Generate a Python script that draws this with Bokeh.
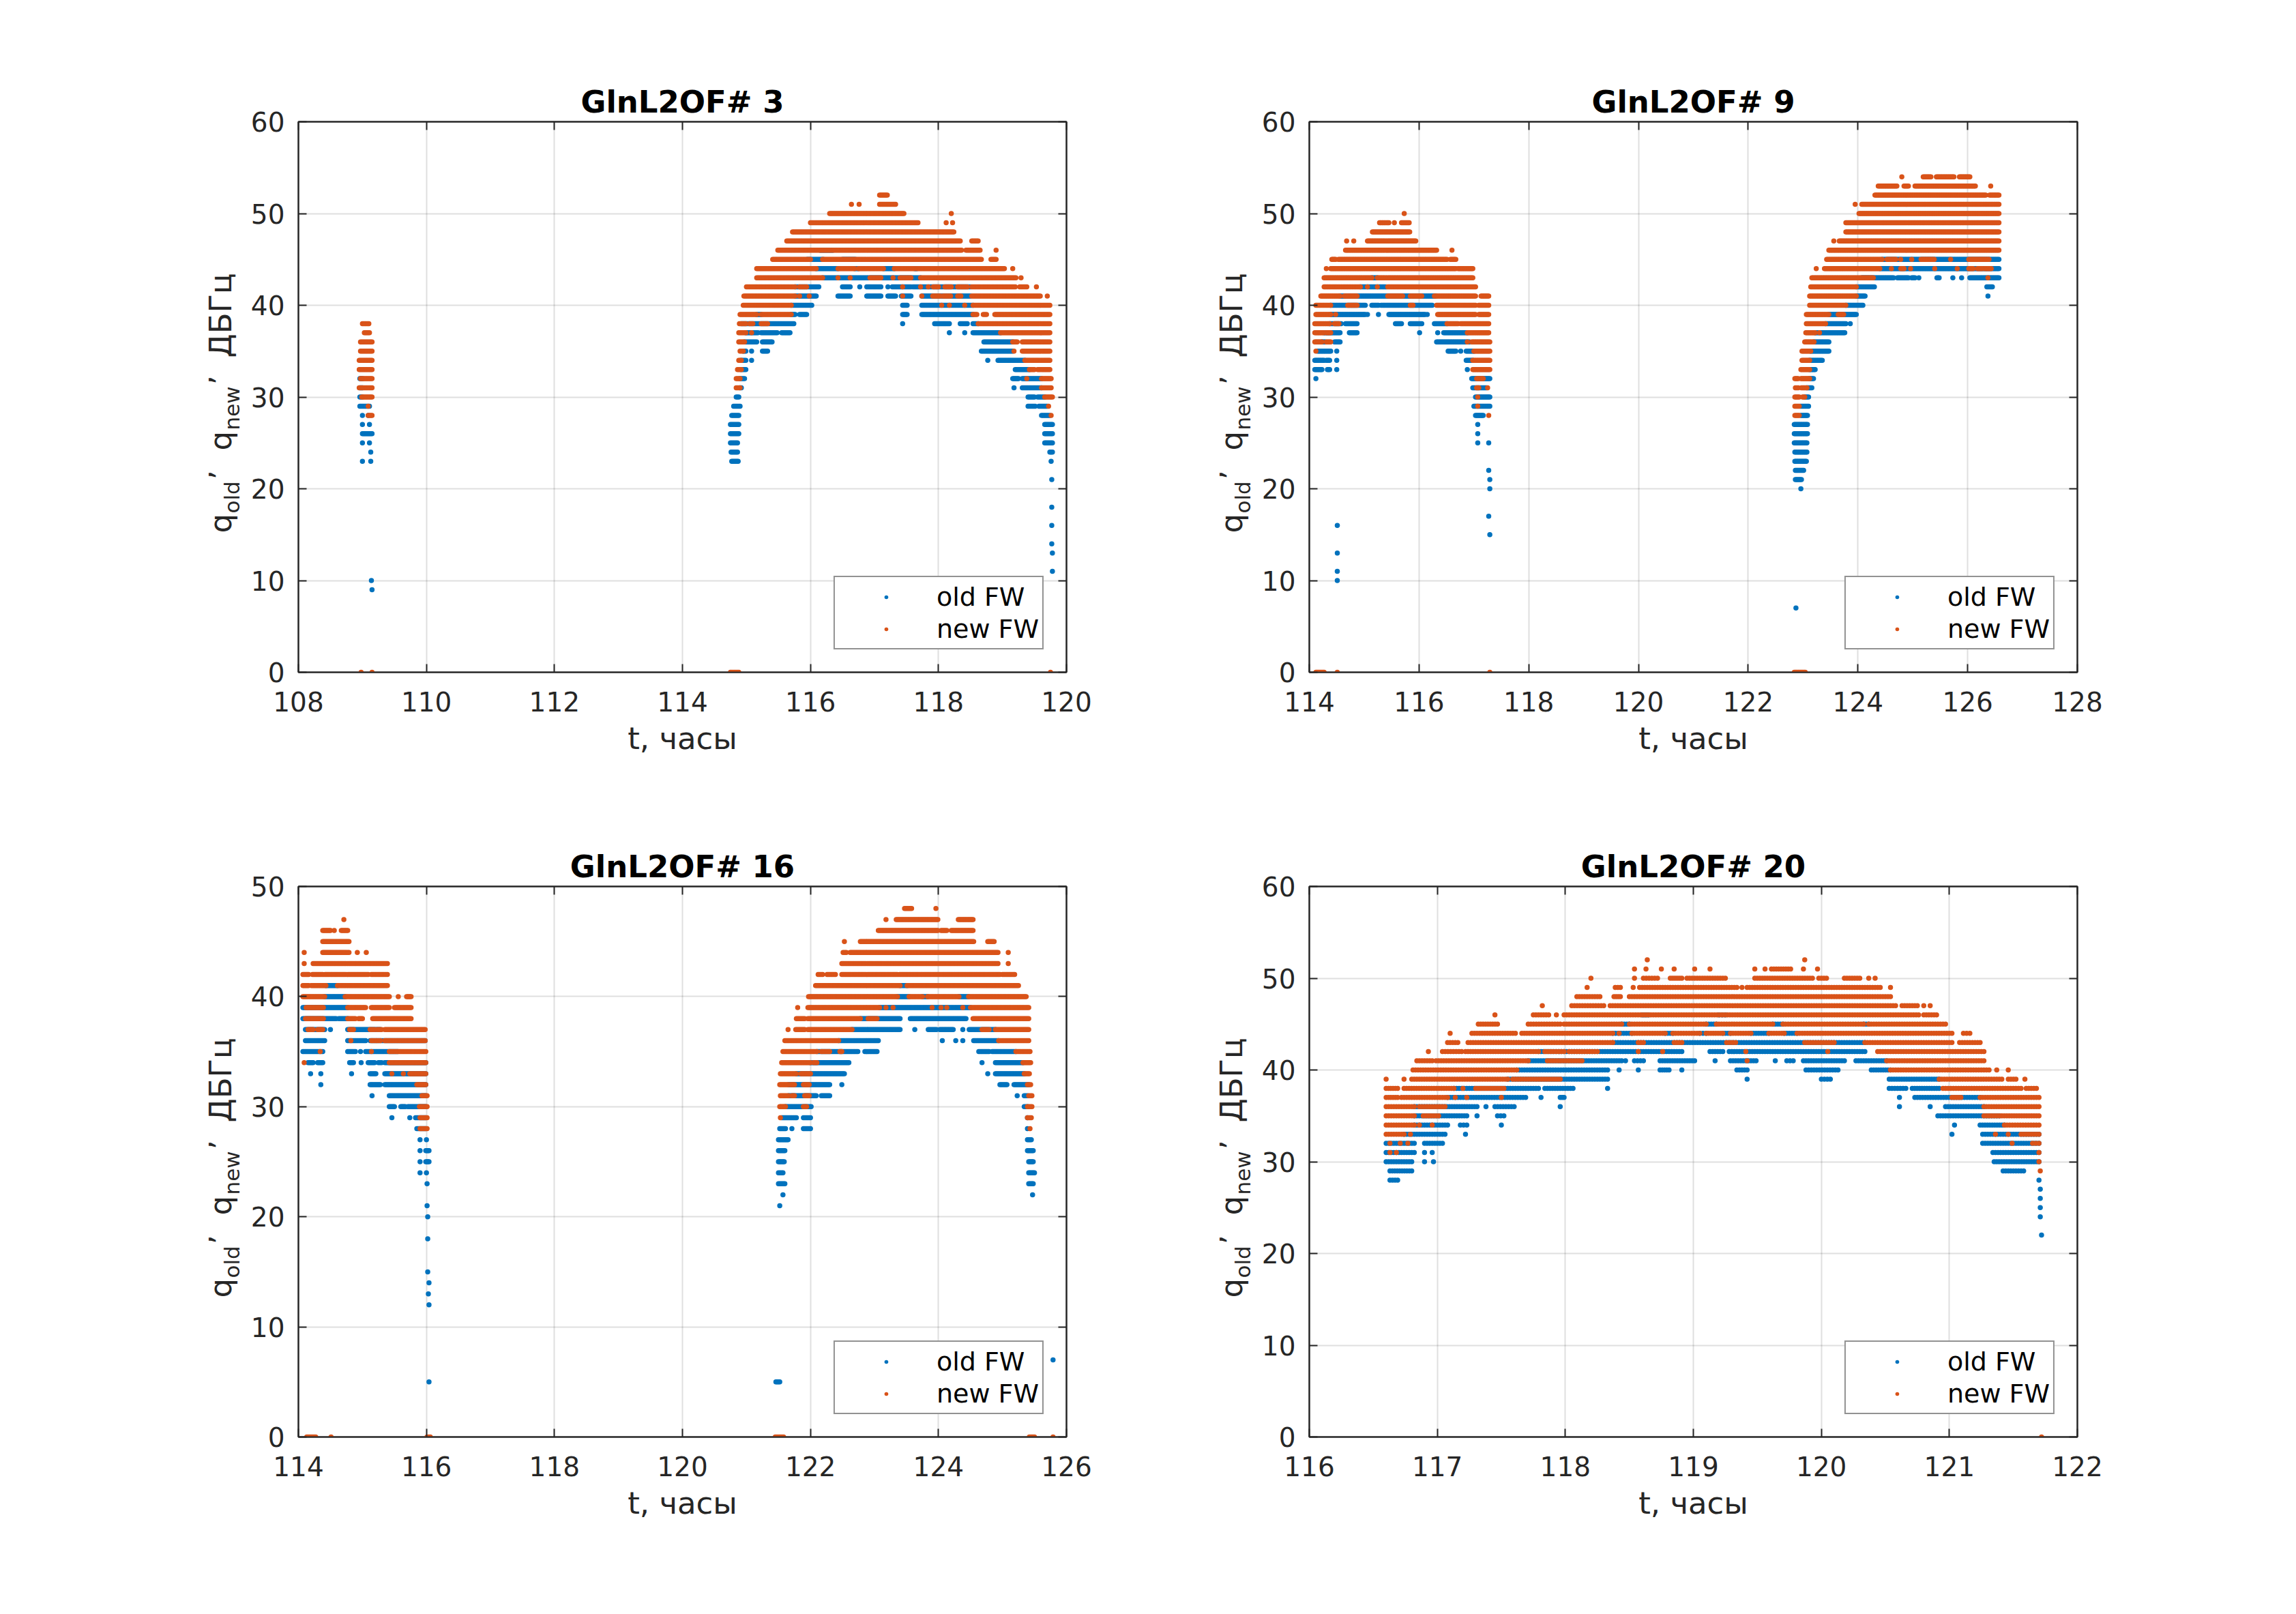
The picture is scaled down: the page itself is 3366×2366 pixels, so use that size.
import math
import numpy as np
from bokeh.plotting import figure
from bokeh.models import (Range1d, FixedTicker, LinearAxis, Legend,
                          LegendItem, ColumnDataSource)
from bokeh.layouts import column, row
from bokeh.core.properties import value
from bokeh.embed import file_html
from bokeh.resources import INLINE

# ---------------- text ----------------
TITLES = ["GlnL2OF# 3", "GlnL2OF# 9", "GlnL2OF# 16", "GlnL2OF# 20"]
SERIES = ["old FW", "new FW"]
X_LABEL = "t, часы"
# y label  q_old, q_new, ДБГц  split into normal / subscript pieces
Y_LABEL_PARTS = ["q", "old", "’", "q", "new", "’", "ДБГц"]
Y_LABEL_SUB = [False, True, False, False, True, False, False]

# ---------------- axes ----------------
p1_xlim = (108, 120); p1_xticks = [108, 110, 112, 114, 116, 118, 120]
p2_xlim = (114, 128); p2_xticks = [114, 116, 118, 120, 122, 124, 126, 128]
p3_xlim = (114, 126); p3_xticks = [114, 116, 118, 120, 122, 124, 126]
p4_xlim = (116, 122); p4_xticks = [116, 117, 118, 119, 120, 121, 122]
p1_ylim = (0, 60); p2_ylim = (0, 60); p3_ylim = (0, 50); p4_ylim = (0, 60)
y60_ticks = [0, 10, 20, 30, 40, 50, 60]
y50_ticks = [0, 10, 20, 30, 40, 50]

# ---------------- data ----------------
# runs of constant q (dB-Hz): (q, t_start, t_end) or (q, t) for single samples
p1_old = [
 (32,108.96,109.00),(31,108.96,109.00),(30,108.96,109.00),(29,108.96,109.11),
 (28,109.00),(28,109.09),(27,109.00),(27,109.11),(26,109.00,109.15),(25,109.00),(25,109.11),
 (24,109.13),(23,109.00),(23,109.13),(10,109.14),(9,109.15),
 (46,116.15,116.35),
 (45,115.95,116.20),(45,116.50,116.70),
 (44,116.09,116.43),(44,116.69,116.75),(44,117.14,117.31),(44,117.63,117.66),
 (43,116.19,117.72),
 (42,115.76,116.13),(42,116.50,116.62),(42,116.77),(42,116.88,117.10),(42,117.21),(42,117.28,117.57),(42,117.60,118.50),
 (41,115.76,116.09),(41,116.43,116.62),(41,116.88,117.10),(41,117.21,117.33),(41,117.42,117.57),(41,117.74,118.50),
 (40,115.70,116.02),(40,117.44,117.51),(40,117.74,118.54),
 (39,115.16,115.23),(39,115.70,115.76),(39,115.83,115.94),(39,117.44,117.51),(39,117.74,118.54),
 (38,114.92,115.74),(38,117.44),(38,117.94,118.17),(38,118.34,118.45),(38,118.54,118.62),
 (37,114.99,115.18),(37,115.23,115.48),(37,115.55,115.68),(37,118.17),(37,118.41),(37,118.54,118.97),
 (36,114.97,115.16),(36,115.25,115.40),(36,118.71,119.16),
 (35,114.95,114.99),(35,115.08),(35,115.25,115.33),(35,118.67,119.16),
 (34,114.92,114.99),(34,115.08),(34,118.77),(34,118.93,119.35),
 (33,114.92,114.99),(33,119.20,119.42),
 (32,114.90,114.97),(32,119.16,119.25),(32,119.31,119.61),
 (31,114.90,114.92),(31,119.18),(31,119.31,119.61),
 (30,114.84,114.88),(30,119.40,119.50),(30,119.55,119.66),
 (29,114.80,114.90),(29,119.40,119.51),(29,119.57,119.70),
 (28,114.77,114.88),(28,119.61,119.74),
 (27,114.75,114.88),(27,119.66,119.78),
 (26,114.75,114.88),(26,119.66,119.78),
 (25,114.75,114.86),(25,119.66,119.78),
 (24,114.76,114.86),(24,119.74,119.78),
 (23,114.77,114.87),(23,119.76),
 (21,119.77),(18,119.77),(16,119.77),(14,119.77),(13,119.78),(11,119.78),
]
p1_new = [
 (38,109.00,109.10),(37,109.03,109.11),(36,108.97,109.15),(35,108.97,109.15),
 (34,108.95,109.15),(33,108.95,109.15),(32,108.97,109.15),(31,108.95,109.15),
 (30,108.99,109.15),(29,109.09),(28,109.09,109.15),(0,108.98),(0,109.15),
 (52,117.08,117.20),
 (51,116.64),(51,116.76),(51,117.08,117.33),
 (50,116.30,117.46),(50,118.20),
 (49,116.00,117.68),(49,118.12),(49,118.22),
 (48,115.72,118.24),
 (47,115.63,118.34),(47,118.52,118.62),
 (46,115.49,118.36),(46,118.43,118.65),(46,118.90),
 (45,115.41,116.00),(45,116.19,118.67),(45,118.82,118.90),
 (44,115.16,116.09),(44,116.43,116.69),(44,116.75,117.14),(44,117.31,117.63),(44,117.66,119.03),(44,119.16),
 (43,115.16,116.19),(43,116.43),(43,116.62),(43,116.93,117.10),(43,117.29),(43,117.40,117.57),(43,117.72,119.21),(43,119.29),
 (42,115.00,115.76),(42,115.83,115.94),(42,117.44),(42,117.72),(42,117.84),(42,117.92,118.00),(42,118.10,118.20),(42,118.30,118.45),(42,118.52,119.20),(42,119.27,119.38),(42,119.53),
 (41,114.96,115.76),(41,115.83),(41,115.98),(41,117.44),(41,117.74),(41,117.91,118.03),(41,118.07,118.19),(41,118.30,118.35),(41,118.52,119.59),(41,119.70),
 (40,114.95,115.70),(40,118.05),(40,118.17),(40,118.41),(40,118.54,119.74),
 (39,114.90,115.16),(39,115.23,115.70),(39,118.54,118.60),(39,118.70,118.75),(39,118.88,119.74),
 (38,114.89,114.99),(38,115.05,115.10),(38,115.23,115.33),(38,118.62,119.74),
 (37,114.88,114.99),(37,115.08),(37,118.97,119.74),
 (36,114.88,114.97),(36,119.16,119.23),(36,119.31,119.74),
 (35,114.90,114.95),(35,119.18),(35,119.31,119.74),
 (34,114.88,114.92),(34,119.35,119.74),
 (33,114.86,114.92),(33,119.42,119.50),(33,119.55,119.74),
 (32,114.84,114.90),(32,119.38),(32,119.61,119.76),
 (31,114.84,114.90),(31,119.61,119.76),
 (30,119.66,119.78),(29,119.72),(28,119.76),
 (0,114.75,114.88),(0,119.75),
]

p2_old = [
 (43,115.14,115.24),
 (42,114.93,115.40),
 (41,114.56,116.30),
 (40,114.39,115.02),(40,115.14,115.26),(40,115.31,116.24),
 (39,114.39,115.02),(39,115.06),(39,115.26),(39,115.45,116.11),(39,116.15),
 (38,114.37,114.58),(38,114.66,114.87),(38,115.57,115.68),(38,115.84,116.05),(38,116.28,116.51),
 (37,114.27,114.56),(37,114.73,114.87),(37,116.01),(37,116.34),(37,116.45,116.88),
 (36,114.23,114.29),(36,114.46,114.56),(36,116.32,116.92),
 (35,114.15,114.39),(35,114.50),(35,116.53,116.67),(35,116.76),(35,116.86,117.00),
 (34,114.10,114.27),(34,114.31,114.37),(34,114.50),(34,116.86,116.98),
 (33,114.10,114.23),(33,114.33,114.37),(33,114.50),(33,116.88),
 (32,114.12),(32,116.96,117.29),
 (31,116.98,117.23),(30,117.03,117.29),(29,117.00,117.29),(28,117.03,117.17),
 (27,117.07),(26,117.07),(25,117.07),(25,117.27),(22,117.27),(21,117.29),(20,117.29),(17,117.27),(15,117.29),
 (16,114.51),(13,114.51),(11,114.51),(10,114.51),
 (45,124.44,126.57),
 (44,124.40,126.57),
 (43,124.07,124.65),(43,124.72,124.92),(43,124.98,125.04),(43,125.11),(43,125.44,125.48),(43,125.73),(43,125.89),(43,126.04,126.57),
 (42,123.97,124.30),(42,126.35,126.45),
 (41,123.97,124.13),(41,126.37),
 (40,123.78,124.09),
 (39,123.47,123.97),
 (38,123.41,123.78),(38,123.86),
 (37,123.22,123.76),
 (36,123.20,123.47),
 (35,123.14,123.47),
 (34,123.12,123.35),
 (33,123.12,123.22),
 (32,123.12,123.19),
 (31,123.07,123.16),
 (30,123.03,123.10),
 (29,122.95,123.10),
 (28,122.96,123.08),
 (27,122.84,123.08),(26,122.84,123.08),(25,122.84,123.07),(24,122.85,123.07),(23,122.85,123.06),
 (22,122.86,123.01),(21,122.86,122.97),(20,122.96),(7,122.87),
]
p2_new = [
 (50,115.73),
 (49,115.28,115.45),(49,115.55),(49,115.68,115.82),
 (48,115.15,115.83),
 (47,114.68),(47,114.81),(47,115.06,115.94),
 (46,114.66,116.32),(46,116.60),
 (45,114.41,114.48),(45,114.53,116.51),(45,116.57,116.67),
 (44,114.31),(44,114.39,116.67),(44,116.71,116.98),
 (43,114.27,115.14),(43,115.24,116.98),
 (42,114.27,114.93),(42,115.06),(42,115.24),(42,115.43,117.03),
 (41,114.21,114.56),(41,114.64,114.87),(41,115.43,115.70),(41,115.84,116.05),(41,116.28,117.03),(41,117.13,117.27),
 (40,114.12,114.39),(40,114.70,114.87),(40,115.84,115.89),(40,116.32,117.03),(40,117.09,117.27),
 (39,114.12,114.39),(39,114.48),(39,116.34,117.03),(39,117.09,117.27),
 (38,114.10,114.37),(38,114.46,114.54),(38,116.51,116.71),(38,116.76,117.27),
 (37,114.10,114.27),(37,114.31,114.39),(37,116.88,117.27),
 (36,114.10,114.23),(36,114.31,114.39),(36,116.88),(36,116.96,117.29),
 (35,114.12),(35,117.00,117.29),
 (34,116.98,117.29),(33,116.98,117.29),
 (32,117.05,117.17),(31,117.05,117.09),(31,117.25),(30,117.07),(29,117.07),(28,117.27),
 (0,114.12,114.27),(0,114.51),(0,117.29),
 (54,124.80),(54,125.19,125.33),(54,125.43,125.75),(54,125.85,126.04),
 (53,124.37,124.71),(53,124.84,124.92),(53,125.04,126.14),(53,126.42),
 (52,124.31,126.33),(52,126.40,126.57),
 (51,123.95),(51,124.07,126.57),
 (50,124.02,126.57),
 (49,123.78,126.57),(48,123.78,126.57),
 (47,123.56),(47,123.66,126.57),
 (46,123.47,126.57),
 (45,123.43,124.44),(45,124.53,124.69),(45,124.78),(45,124.98),(45,125.15,125.39),(45,125.69),(45,126.02,126.39),
 (44,123.24),(44,123.39,124.40),(44,124.61),(44,124.78,124.84),(44,124.96),(44,125.40),(44,125.81),(44,126.02,126.10),(44,126.18,126.27),(44,126.31,126.43),
 (43,123.16,124.28),(43,126.37),
 (42,123.14,123.97),(41,123.12,123.97),(40,123.12,123.78),
 (39,123.06,123.47),(39,123.64,123.74),
 (38,123.06,123.41),(37,123.05,123.22),(37,123.30),(36,123.03,123.20),
 (35,122.98,123.14),(34,122.98,123.12),(33,122.96,123.12),
 (32,122.85,122.91),(32,122.96,123.12),(31,122.86,122.91),(31,122.97,123.07),
 (30,122.85,122.93),(30,122.99,123.03),(29,122.85,122.93),(28,122.85,122.93),
 (0,122.84,123.04),
]

p3_old = [
 (41,114.43,114.61),
 (40,114.41,114.73),
 (39,114.07,114.77),
 (38,114.07,114.59),(38,114.63,114.77),
 (37,114.11,114.41),(37,114.50),(37,114.77,115.28),
 (36,114.11,114.41),(36,114.77,115.05),(36,115.12,115.98),
 (35,114.07,114.38),(35,114.77,114.89),(35,114.97),(35,115.05,115.55),
 (34,114.15,114.23),(34,114.30,114.38),(34,114.80,114.86),(34,114.98),(34,115.09,115.19),(34,115.25,115.30),(34,115.35,115.99),
 (33,114.19),(33,114.35),(33,114.83),(33,115.12,115.21),(33,115.35,115.99),
 (32,114.35),(32,115.12,115.28),(32,115.35,115.99),
 (31,115.15),(31,115.42,115.99),
 (30,115.42,115.50),(30,115.60,115.67),(30,115.71,115.99),
 (29,115.46),(29,115.74),(29,115.83,115.99),
 (28,115.85,115.99),
 (27,115.90),(27,116.00),(26,115.90),(26,115.99,116.04),(25,115.90),(25,115.99,116.04),(24,115.90),(24,116.00),
 (23,116.01),(21,116.01),(20,116.02),(18,116.02),(15,116.02),(14,116.04),(13,116.03),(12,116.04),(5,116.04),
 (41,123.40,123.51),
 (40,123.36,123.54),(40,123.75,123.83),(40,124.32,124.47),
 (39,123.08,124.50),
 (38,122.78,123.40),(38,123.56,124.43),
 (37,122.65,123.40),(37,123.63),(37,123.84,123.97),(37,124.02,124.23),(37,124.38),(37,124.48,124.89),
 (36,122.44,123.06),(36,124.06),(36,124.27),(36,124.38),(36,124.55,124.94),
 (35,122.10,122.74),(35,122.85,123.04),(35,124.63,124.79),(35,124.84,125.21),
 (34,122.00,122.60),(34,124.68),(34,124.89,125.32),
 (33,121.78,122.53),(33,124.77),(33,124.89,125.34),
 (32,121.66,122.30),(32,122.49),(32,124.96,125.07),(32,125.18,125.41),
 (31,121.66,122.09),(31,122.17,122.30),(31,125.23),(31,125.34,125.39),
 (30,121.61,122.01),(30,125.34,125.39),
 (29,121.55,121.78),(29,121.89,122.00),(29,125.39),
 (28,121.52,121.61),(28,121.71),(28,121.89,122.00),(28,125.39),
 (27,121.50,121.65),(27,125.39,125.45),
 (26,121.50,121.60),(26,125.39,125.48),
 (25,121.50,121.59),(25,125.41,125.48),
 (24,121.50,121.57),(24,125.41,125.50),
 (23,121.50,121.60),(23,125.41,125.48),
 (22,121.57),(22,125.47),(21,121.52),
 (5,121.46,121.52),(7,125.79),
]
p3_new = [
 (47,114.71),
 (46,114.38,114.50),(46,114.56),(46,114.67,114.77),
 (45,114.38,114.79),
 (44,114.09),(44,114.38,114.79),(44,114.92),(44,115.06),
 (43,114.09),(43,114.23,115.39),
 (42,114.07,114.16),(42,114.22,115.09),(42,115.14,115.39),
 (41,114.07,114.16),(41,114.20,114.43),(41,114.61,115.39),
 (40,114.07,114.41),(40,114.73,115.42),(40,115.56),(40,115.69,115.76),
 (39,114.12,114.39),(39,114.77,114.89),(39,114.91,115.05),(39,115.14,115.42),(39,115.50,115.76),
 (38,114.11,114.39),(38,114.77,114.89),(38,114.94,115.00),(38,115.16,115.76),
 (37,114.15,114.23),(37,114.30,114.38),(37,114.80,114.86),(37,115.12,115.19),(37,115.23,115.30),(37,115.35,115.98),
 (36,114.82),(36,115.14,115.21),(36,115.23,115.28),(36,115.35,115.98),
 (35,114.34),(35,115.14),(35,115.42,115.99),
 (34,114.09),(34,115.42,115.99),
 (33,115.46),(33,115.64),(33,115.74,115.99),
 (32,115.85,115.99),(31,115.93,116.01),(30,115.89,116.01),(29,115.90,116.01),(28,115.90,116.01),
 (0,114.13,114.27),(0,114.51),(0,116.01,116.06),
 (48,123.47,123.58),(48,123.96),
 (47,123.18),(47,123.34,123.99),(47,124.31,124.54),
 (46,123.06,123.99),(46,124.04,124.13),(46,124.20,124.54),
 (45,122.53),(45,122.78,124.55),(45,124.77,124.87),
 (44,122.51,122.56),(44,122.62,124.93),(44,125.09),
 (43,122.49,124.93),(43,125.09),
 (42,122.12,122.19),(42,122.26,122.39),(42,122.49,124.96),(42,125.00,125.19),
 (41,122.08,123.40),(41,123.51,125.25),
 (40,121.97,123.36),(40,123.54,123.75),(40,123.83,124.32),(40,124.47,125.37),
 (39,121.80),(39,121.96,123.08),(39,123.18),(39,123.29),(39,123.90),(39,124.04),(39,124.13),(39,124.38),(39,124.50,125.41),
 (38,121.78,121.91),(38,121.96,122.78),(38,122.90,123.04),(38,124.54,125.41),
 (37,121.65),(37,121.77,121.91),(37,121.96,122.65),(37,124.68,124.79),(37,124.89,125.41),
 (36,121.60,122.44),(36,124.94,125.41),
 (35,121.57,122.10),(35,122.17,122.30),(35,122.46,122.49),(35,125.21,125.43),
 (34,121.55,122.00),(34,122.05,122.10),(34,125.32,125.44),
 (33,121.53,121.78),(33,121.85,122.00),(33,125.34,125.42),
 (32,121.52,121.66),(32,121.69,121.75),(32,121.89,121.98),(32,125.39,125.44),
 (31,121.53,121.66),(31,121.71,121.75),(31,121.91,121.98),(31,125.41,125.46),
 (30,121.52,121.61),(30,121.89,121.94),(30,125.39,125.46),
 (29,121.53),(29,125.39,125.45),
 (28,125.43),
 (0,121.45,121.58),(0,125.42,125.50),(0,125.79),
]

p4_old = [
 (46,118.60,118.65),(46,119.20,119.25),
 (45,118.44,118.50),(45,119.10,119.18),(45,119.62,119.70),(45,120.33,120.37),
 (44,118.37,118.52),(44,118.78,118.84),(44,119.05,119.10),(44,119.23,119.29),(44,119.45,119.59),(44,119.71,119.81),
 (43,118.37,120.34),
 (42,117.79,118.91),(42,119.13,119.23),(42,119.28,120.34),
 (41,117.71,118.44),(41,118.47),(41,118.54,118.61),(41,118.74,119.01),(41,119.17),(41,119.29,119.49),(41,119.64),(41,119.73,119.78),(41,119.86,120.18),(41,120.27,120.51),
 (40,117.62,118.33),(40,118.42),(40,118.57),(40,118.74,118.81),(40,118.91),(40,119.34,119.42),(40,119.88,120.13),(40,120.39,120.54),
 (39,117.55,118.33),(39,119.42),(39,120.00,120.07),(39,120.53,120.92),
 (38,117.13,117.79),(38,117.84,118.06),(38,118.33),(38,120.53,120.66),(38,120.71,120.92),
 (37,117.08,117.69),(37,117.81),(37,117.96,117.99),(37,120.61),(37,120.73,121.24),
 (36,116.82,117.31),(36,117.38),(36,117.45,117.60),(36,117.96),(36,120.61),(36,120.85),(36,120.97,121.27),
 (35,116.82,117.23),(35,117.31),(35,117.47,117.52),(35,120.91,121.39),
 (34,116.82,117.08),(34,117.18,117.23),(34,117.50),(34,121.04),(34,121.24,121.43),
 (33,116.74,117.06),(33,117.22),(33,121.02),(33,121.26,121.70),
 (32,116.60,116.82),(32,116.90,117.04),(32,121.26,121.70),
 (31,116.60,116.82),(31,116.90),(31,116.96),(31,121.34,121.70),
 (30,116.60,116.80),(30,116.90),(30,116.97),(30,121.35,121.70),
 (29,116.63,116.80),(29,121.42,121.58),
 (28,116.63,116.69),(28,121.70),
 (27,121.71),(26,121.71),(25,121.71),(24,121.71),(22,121.72),
]
p4_new = [
 (52,118.64),(52,119.87),
 (51,118.54),(51,118.63),(51,118.75),(51,118.85),(51,119.01),(51,119.13),(51,119.48),(51,119.56),(51,119.61,119.76),(51,119.86),(51,119.97),
 (50,118.20),(50,118.54),(50,118.61,118.72),(50,118.82,118.91),(50,118.95,119.25),(50,119.48,119.93),(50,119.98,120.04),(50,120.18,120.30),(50,120.37),(50,120.42),
 (49,118.17),(49,118.39,118.43),(49,118.53),(49,118.58,119.34),(49,119.38),(49,119.42,120.46),(49,120.54),
 (48,118.09,118.27),(48,118.38,118.43),(48,118.50,120.54),
 (47,117.82),(47,118.05,118.30),(47,118.35,120.58),(47,120.63,120.75),(47,120.80),(47,120.85),
 (46,117.45),(46,117.75,117.87),(46,117.93),(46,117.99,120.76),(46,120.80,120.90),
 (45,117.32,117.47),(45,117.71,117.96),(45,117.99,118.44),(45,118.50,119.10),(45,119.18,119.62),(45,119.70,120.33),(45,120.37,120.97),
 (44,117.10),(44,117.27,117.61),(44,117.66,118.37),(44,118.42),(44,118.52,118.78),(44,118.84,119.05),(44,119.10,119.23),(44,119.29,119.45),(44,119.59,119.71),(44,119.81,121.02),(44,121.11,121.16),
 (43,117.08,117.16),(43,117.24,118.37),(43,118.57,118.61),(43,118.85,118.91),(43,119.26,119.33),(43,119.87,120.10),(43,120.34,121.02),(43,121.08,121.24),
 (42,116.93),(42,117.04,117.19),(42,117.22,117.79),(42,117.84,117.99),(42,118.03,118.25),(42,118.57),(42,118.76),(42,119.41),(42,120.05),(42,120.44,121.27),
 (41,116.84,116.96),(41,116.99,117.71),(41,117.86,118.13),(41,119.42),(41,120.51,121.27),
 (40,116.81,117.62),(40,120.54,121.31),(40,121.37),(40,121.46),
 (39,116.60),(39,116.74),(39,116.80,117.55),(39,117.59,117.96),(39,120.92,121.41),(39,121.46,121.52),(39,121.59),
 (38,116.60,116.69),(38,116.74,117.13),(38,117.20),(38,117.30,117.52),(38,120.95,121.56),(38,121.60,121.68),
 (37,116.60,116.69),(37,116.72,117.08),(37,117.14),(37,117.23),(37,117.50),(37,121.02,121.09),(37,121.24,121.70),
 (36,116.60,116.82),(36,116.86,117.06),(36,121.27,121.70),
 (35,116.60,116.82),(35,116.89,117.01),(35,121.27,121.37),(35,121.39,121.70),
 (34,116.60,116.82),(34,116.86),(34,116.96),(34,121.43,121.70),
 (33,116.60,116.74),(33,116.79),(33,121.36),(33,121.46),(33,121.56,121.70),
 (32,116.63),(32,116.71),(32,116.77),(32,121.49),(32,121.65,121.70),
 (31,116.63),(31,116.68),(31,121.70),
 (30,121.70),(29,121.71),
 (0,121.72),
]

# ---------------- style ----------------
C_OLD = "#0072BD"
C_NEW = "#D95319"
AX = "#262626"
FONT = "DejaVu Sans"
STEP = 0.02          # sampling interval of the receiver log, hours
FW, FH = 1126, 807   # axes box in pixels
B_LEFT = 80          # space for y tick labels inside each panel figure
B_BOTTOM = 180

# positions of the y-label pieces along the axis (px from the box bottom)
Y_LABEL_POS = [204, 233, 282, 325, 355, 421, 461]
Y_MAIN_OFF = 114     # baseline of normal text, px left of the axes box
Y_SUB_OFF = 98       # baseline of subscripts, px left of the axes box


def expand(runs):
    xs, ys = [], []
    for r in runs:
        q, t0 = r[0], r[1]
        t1 = r[2] if len(r) > 2 else t0
        n = max(1, int(round((t1 - t0) / STEP)) + 1)
        ts = np.linspace(t0, t1, n)
        xs.extend(ts.tolist())
        ys.extend([q] * n)
    return xs, ys


def style_axis(ax, ticks, labels=True):
    ax.ticker = FixedTicker(ticks=ticks)
    ax.axis_line_color = AX
    ax.axis_line_width = 2
    ax.major_tick_line_color = AX
    ax.major_tick_line_width = 2
    ax.major_tick_in = 12
    ax.major_tick_out = 0
    ax.minor_tick_line_color = None
    ax.major_label_text_font = FONT
    if labels:
        ax.major_label_text_font_size = "39px"
        ax.major_label_text_color = AX
    else:
        ax.major_label_text_font_size = "0px"
        ax.major_label_text_color = None
        ax.major_label_standoff = 0


def make_ylabel(width, top):
    """A strip holding the rotated y label (with subscripts) left of a panel.
    Its frame has the same vertical extent as the panel's axes box."""
    f = figure(width=width, height=top + FH + B_BOTTOM,
               x_range=Range1d(0, width), y_range=Range1d(0, FH),
               output_backend="svg", toolbar_location=None,
               x_axis_type=None, y_axis_type=None,
               min_border_left=0, min_border_right=0,
               min_border_top=top, min_border_bottom=B_BOTTOM)
    f.outline_line_color = None
    f.background_fill_color = "white"
    f.border_fill_color = "white"
    box_left = width + B_LEFT          # axes box left edge in strip coordinates
    for sub, size, off in ((False, "45px", Y_MAIN_OFF), (True, "31px", Y_SUB_OFF)):
        txt = [t for t, s in zip(Y_LABEL_PARTS, Y_LABEL_SUB) if s == sub]
        ys = [d for d, s in zip(Y_LABEL_POS, Y_LABEL_SUB) if s == sub]
        f.text(x=[box_left - off] * len(txt), y=ys, text=txt, angle=math.pi / 2,
               text_font=value(FONT), text_font_size=value(size),
               text_color=AX, text_align="left", text_baseline="alphabetic")
    return f


def make_panel(title, xlim, xticks, ylim, yticks, old_runs, new_runs, right, top):
    p = figure(width=B_LEFT + FW + right, height=top + FH + B_BOTTOM,
               x_range=Range1d(*xlim), y_range=Range1d(*ylim),
               output_backend="svg", toolbar_location=None,
               min_border_left=B_LEFT, min_border_right=right,
               min_border_top=top, min_border_bottom=B_BOTTOM)
    p.outline_line_color = AX
    p.outline_line_width = 2
    p.background_fill_color = "white"
    p.border_fill_color = "white"

    p.title.text = title
    p.title.align = "center"
    p.title.text_font = FONT
    p.title.text_font_size = "45px"
    p.title.text_font_style = "bold"
    p.title.text_color = "black"
    p.title.standoff = 5

    style_axis(p.xaxis[0], xticks)
    style_axis(p.yaxis[0], yticks)
    p.xaxis[0].major_label_standoff = 28
    p.yaxis[0].major_label_standoff = 20
    p.xaxis[0].axis_label = X_LABEL
    p.xaxis[0].axis_label_text_font = FONT
    p.xaxis[0].axis_label_text_font_size = "45px"
    p.xaxis[0].axis_label_text_font_style = "normal"
    p.xaxis[0].axis_label_text_color = AX
    p.xaxis[0].axis_label_standoff = 10

    top_ax = LinearAxis()
    style_axis(top_ax, xticks, labels=False)
    p.add_layout(top_ax, "above")
    right_ax = LinearAxis()
    style_axis(right_ax, yticks, labels=False)
    p.add_layout(right_ax, "right")

    for g in (p.xgrid[0], p.ygrid[0]):
        g.grid_line_color = AX
        g.grid_line_alpha = 0.15
        g.grid_line_width = 2
    p.xgrid[0].ticker = FixedTicker(ticks=xticks)
    p.ygrid[0].ticker = FixedTicker(ticks=yticks)

    xo, yo = expand(old_runs)
    xn, yn = expand(new_runs)
    r_old = p.scatter("x", "y", source=ColumnDataSource(dict(x=xo, y=yo)),
                      size=7.5, fill_color=C_OLD, line_color=None)
    r_new = p.scatter("x", "y", source=ColumnDataSource(dict(x=xn, y=yn)),
                      size=7.5, fill_color=C_NEW, line_color=None)

    leg = Legend(items=[LegendItem(label=SERIES[0], renderers=[r_old]),
                        LegendItem(label=SERIES[1], renderers=[r_new])],
                 location="bottom_right", margin=33, padding=5, spacing=0,
                 glyph_width=140, glyph_height=14, label_height=47,
                 label_standoff=4,
                 label_text_font=FONT, label_text_font_size="38px",
                 label_text_color="black",
                 border_line_color=AX, border_line_width=2,
                 background_fill_color="white", background_fill_alpha=1.0)
    p.add_layout(leg)
    return p


TOP1, TOP2 = 178, 134

p1 = make_panel(TITLES[0], p1_xlim, p1_xticks, p1_ylim, y60_ticks, p1_old, p1_new, 60, TOP1)
p2 = make_panel(TITLES[1], p2_xlim, p2_xticks, p2_ylim, y60_ticks, p2_old, p2_new, 50, TOP1)
p3 = make_panel(TITLES[2], p3_xlim, p3_xticks, p3_ylim, y50_ticks, p3_old, p3_new, 60, TOP2)
p4 = make_panel(TITLES[3], p4_xlim, p4_xticks, p4_ylim, y60_ticks, p4_old, p4_new, 50, TOP2)

layout = column(
    row(make_ylabel(357, TOP1), p1, make_ylabel(216, TOP1), p2),
    row(make_ylabel(357, TOP2), p3, make_ylabel(216, TOP2), p4),
)
open("out.html", "w").write(file_html(layout, INLINE))
